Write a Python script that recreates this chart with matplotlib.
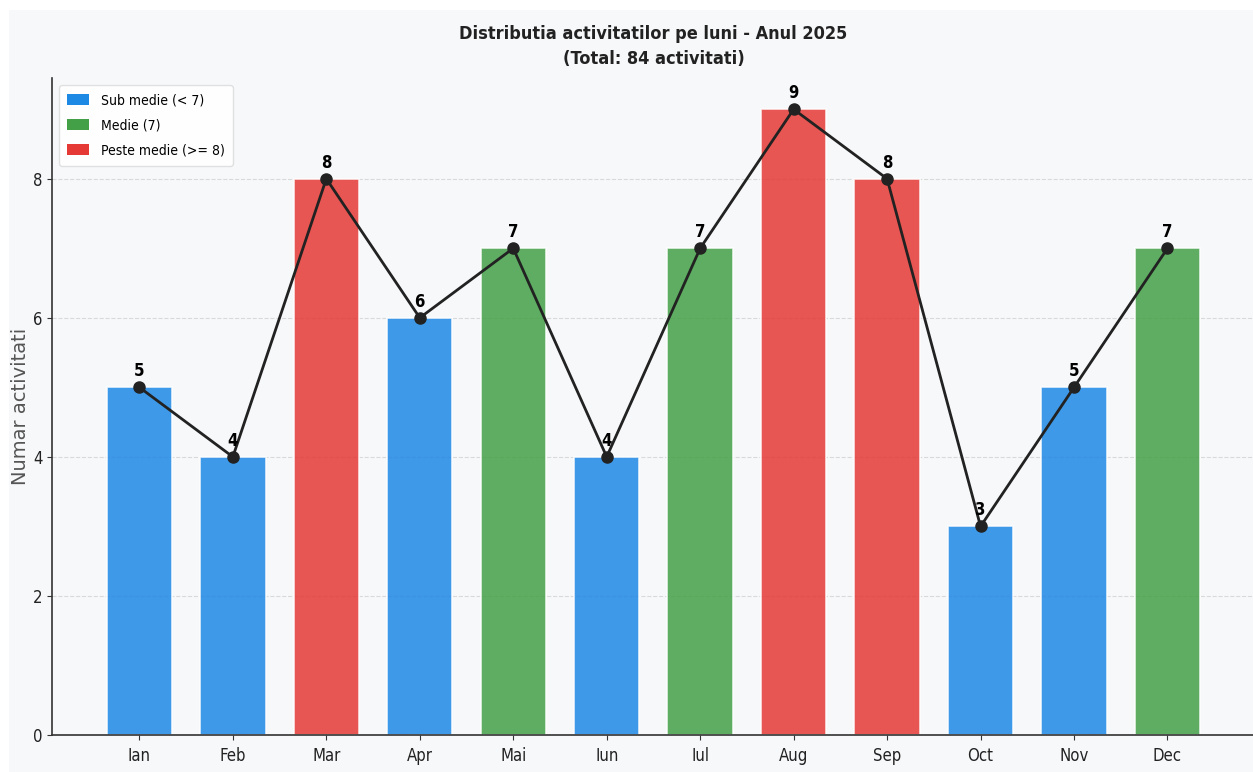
import matplotlib
matplotlib.use("Agg")
import matplotlib.pyplot as plt
from matplotlib.patches import Patch, Rectangle
from matplotlib.font_manager import FontProperties

plt.rcParams['font.family'] = ['DejaVu Sans']
plt.rcParams['font.stretch'] = 'condensed'

months = ["Ian", "Feb", "Mar", "Apr", "Mai", "Iun", "Iul", "Aug", "Sep", "Oct", "Nov", "Dec"]
counts = [5, 4, 8, 6, 7, 4, 7, 9, 8, 3, 5, 7]
average = 7
legend_labels = ["Sub medie (< 7)", "Medie (7)", "Peste medie (>= 8)"]
title = "Distributia activitatilor pe luni - Anul 2025\n(Total: 84 activitati)"
ylabel = "Numar activitati"

c_low, c_mid, c_high = "#1e88e5", "#43a047", "#e53935"
colors = [c_low if v < average else (c_mid if v == average else c_high) for v in counts]

bg = "#f7f8fa"
fig = plt.figure(figsize=(12.53, 7.72), dpi=100, facecolor="white")
fig.patches.append(Rectangle((9 / 1253, 0), 1, 1 - 10 / 772, transform=fig.transFigure,
                             facecolor=bg, edgecolor="none", zorder=-10))
ax = fig.add_axes([0.0415, 0.048, 0.96, 0.851])
ax.set_facecolor(bg)

x = list(range(len(months)))
ax.bar(x, counts, width=0.7, color=colors, alpha=0.85, edgecolor="white", linewidth=1.2, zorder=2)
ax.plot(x, counts, color="#222222", linewidth=2, marker="o", markersize=8, zorder=3)
for xi, v in zip(x, counts):
    ax.annotate(str(v), (xi, v), xytext=(0, 5), textcoords="offset points",
                ha="center", va="bottom", fontsize=12, fontweight="bold", color="black", zorder=4)

ax.set_xticks(x)
ax.set_xticklabels(months, fontsize=12)
ax.set_yticks([0, 2, 4, 6, 8])
ax.tick_params(axis="y", labelsize=12)
ax.tick_params(axis="x", pad=5)
ax.tick_params(axis="both", colors="#333333", labelcolor="#222222")
ax.set_ylim(0, 9.45)
ax.grid(axis="y", linestyle="--", color="#cccccc", alpha=0.7, zorder=0)
ax.set_axisbelow(True)
for s in ["top", "right"]:
    ax.spines[s].set_visible(False)
for s in ["left", "bottom"]:
    ax.spines[s].set_color("#333333")
    ax.spines[s].set_linewidth(1.2)

ax.set_ylabel(ylabel, fontsize=14, color="#555555", fontstretch="normal")
ax.yaxis.set_label_coords(-0.018, 0.5)
ax.set_title(title, fontsize=13, fontweight="bold", color="#222222", pad=10, linespacing=1.52)

handles = [Patch(facecolor=c, label=l) for c, l in zip([c_low, c_mid, c_high], legend_labels)]
leg = ax.legend(handles=handles, loc="upper left",
                prop=FontProperties(family="DejaVu Sans", stretch="condensed", size=10),
                frameon=True, framealpha=0.9,
                edgecolor="#dddddd", facecolor="white", labelspacing=0.8, handlelength=1.6,
                handleheight=0.8, handletextpad=0.8, borderpad=0.6)

fig.savefig("out.png", dpi=100, facecolor="white")
